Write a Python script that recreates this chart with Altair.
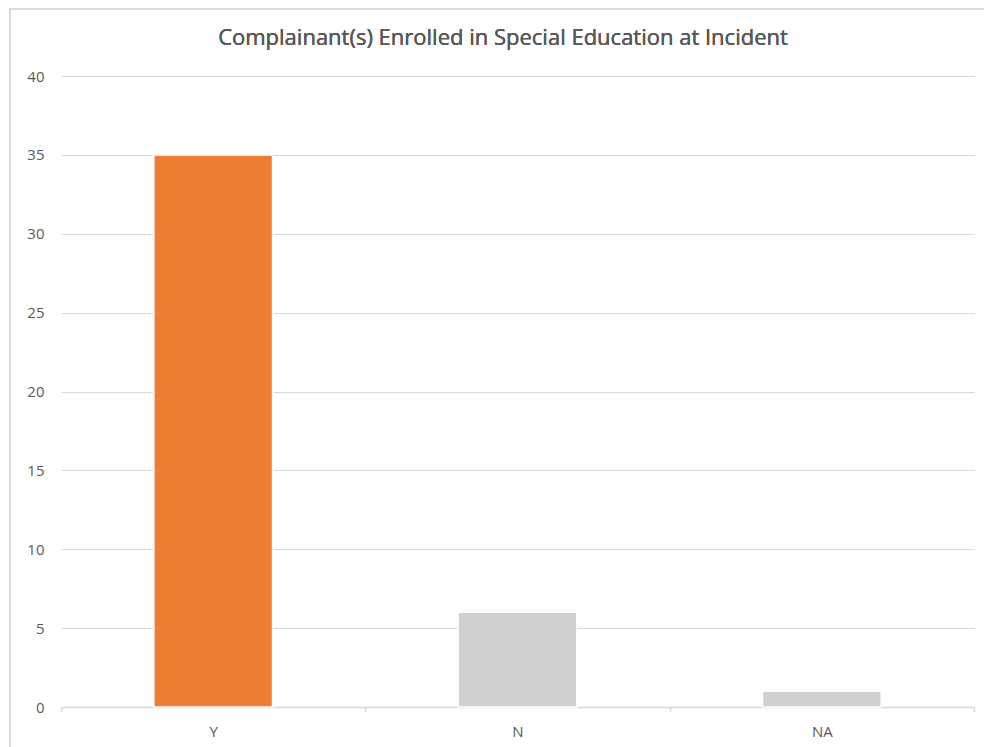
import altair as alt
import pandas as pd

categories = ["Y", "N", "NA"]
counts = [35, 6, 1]
colors = ["#ED7D31", "#D0D0D0", "#D0D0D0"]
title = "Complainant(s) Enrolled in Special Education at Incident"

df = pd.DataFrame({"cat": categories, "count": counts})

W, H = 913, 631
FONT = "Open Sans"

bars = alt.Chart(df).mark_bar(stroke="white", strokeWidth=1.5, width={"band": 0.39}).encode(
    x=alt.X("cat:N", sort=categories,
            scale=alt.Scale(paddingInner=0, paddingOuter=0),
            axis=alt.Axis(title=None, labelAngle=0, labelFontSize=15, labelColor="#595959",
                          labelFont=FONT, labelPadding=12, domainColor="#D9D9D9",
                          domainWidth=1.5, tickColor="#D9D9D9", tickSize=5, tickWidth=1.5,
                          tickBand="extent", grid=False)),
    y=alt.Y("count:Q", scale=alt.Scale(domain=[0, 40]),
            axis=alt.Axis(title=None, values=list(range(0, 41, 5)), labelFontSize=15,
                          labelColor="#595959", labelFont=FONT, labelPadding=17,
                          domain=False, ticks=False, gridColor="#D9D9D9", gridWidth=1.2)),
    color=alt.Color("cat:N", scale=alt.Scale(domain=categories, range=colors), legend=None),
)

border = alt.Chart(df).mark_rect(fill=None, stroke="#D9D9D9", strokeWidth=2).encode(
    x=alt.value(-51), x2=alt.value(W + 60), y=alt.value(-67), y2=alt.value(H + 80)
)

title_mark = alt.Chart(df).mark_text(
    font=FONT, fontSize=22, color="#595959", align="center", baseline="middle"
).encode(x=alt.value(442), y=alt.value(-38), text=alt.value(title))

chart = alt.layer(border, bars, title_mark).properties(
    width=W, height=H,
    autosize=alt.AutoSizeParams(type="none"),
    padding={"left": 61, "top": 76, "right": 10, "bottom": 40},
).configure(background="white").configure_view(stroke=None)

chart.save("out.html", embed_options={"renderer": "svg", "actions": False})
